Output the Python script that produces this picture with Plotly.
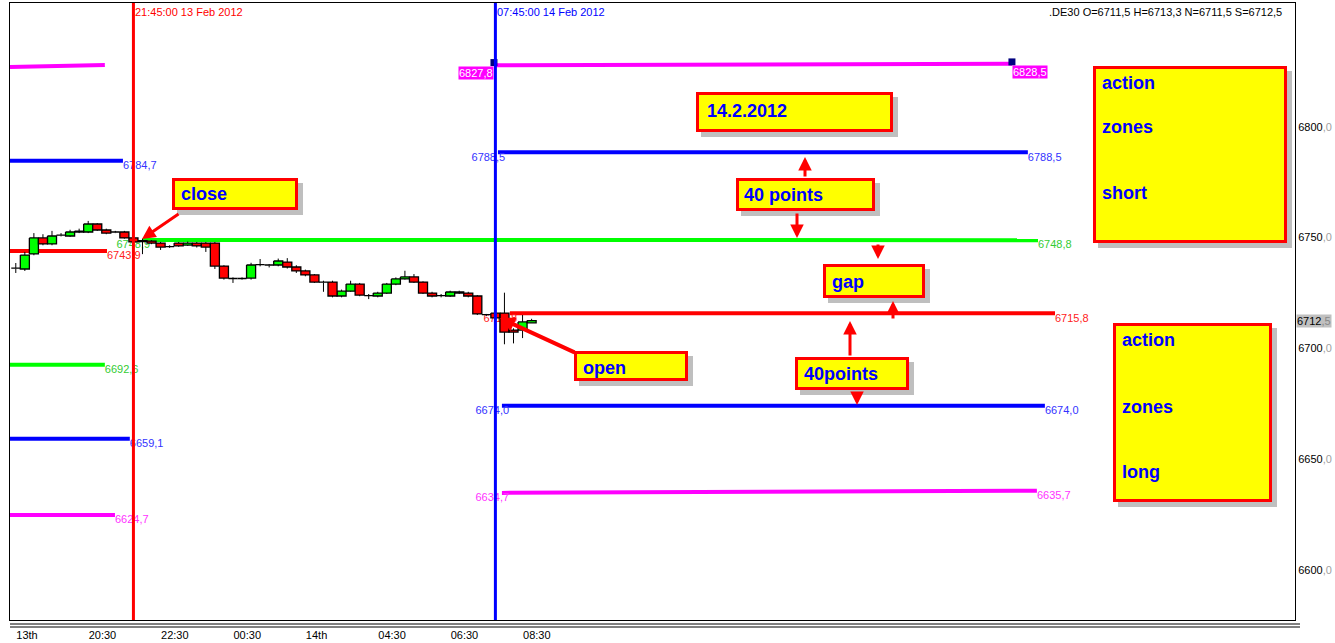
import plotly.graph_objects as go

# ---------------- data ----------------
# 15-minute bars, x = hours after 13 Feb 2012 18:30
bar_hours = [i * 0.25 for i in range(58)]
opens = [6736.0, 6735.8, 6742.6, 6749.8, 6747.1, 6750.9, 6750.7, 6752.5, 6752.5, 6756.1,
         6753.4, 6752.2, 6752.5, 6749.8, 6748.2, 6748.4, 6747.5, 6745.7, 6747.5, 6746.6,
         6747.5, 6747.5, 6747.5, 6737.1, 6731.5, 6731.3, 6731.7, 6737.6, 6737.6, 6737.6,
         6738.9, 6736.7, 6734.9, 6733.1, 6729.9, 6729.9, 6723.6, 6725.8, 6729.0, 6723.8,
         6723.6, 6724.9, 6729.0, 6731.3, 6732.2, 6729.9, 6724.9, 6723.6, 6723.6, 6725.4,
         6724.9, 6723.6, 6715.2, 6715.9, 6715.9, 6708.2, 6708.2, 6711.5]
highs = [6738.5, 6743.5, 6752.0, 6751.5, 6753.0, 6752.0, 6753.5, 6754.0, 6757.5, 6756.5,
         6754.0, 6753.0, 6753.0, 6750.2, 6749.5, 6748.8, 6748.0, 6746.5, 6748.0, 6748.2,
         6748.0, 6748.0, 6748.0, 6737.5, 6732.0, 6732.0, 6738.6, 6740.3, 6738.0, 6740.5,
         6740.7, 6737.5, 6735.5, 6733.5, 6730.5, 6730.5, 6726.5, 6730.5, 6729.5, 6724.5,
         6725.5, 6729.5, 6732.0, 6735.0, 6733.5, 6730.2, 6725.5, 6724.5, 6726.0, 6726.0,
         6725.5, 6724.0, 6715.5, 6716.2, 6725.1, 6709.0, 6715.0, 6713.3]
lows = [6734.0, 6734.9, 6742.0, 6746.5, 6746.5, 6750.5, 6750.3, 6752.0, 6752.0, 6753.0,
        6751.5, 6752.0, 6749.5, 6747.5, 6742.5, 6747.0, 6744.4, 6745.3, 6745.8, 6746.2,
        6745.5, 6743.5, 6735.8, 6731.0, 6729.5, 6731.0, 6731.0, 6737.0, 6736.5, 6737.0,
        6736.0, 6734.0, 6732.5, 6729.5, 6725.5, 6723.0, 6723.0, 6725.5, 6723.5, 6722.2,
        6723.0, 6724.5, 6728.5, 6731.0, 6729.5, 6724.5, 6723.0, 6723.0, 6723.2, 6724.5,
        6723.0, 6715.0, 6714.5, 6713.2, 6701.8, 6702.2, 6704.6, 6711.5]
closes = [6736.2, 6742.1, 6749.8, 6747.1, 6750.7, 6751.1, 6752.5, 6752.9, 6756.1, 6753.4,
          6752.0, 6752.5, 6749.8, 6748.0, 6748.6, 6747.5, 6745.7, 6745.9, 6746.2, 6747.5,
          6746.2, 6745.7, 6737.1, 6731.7, 6731.3, 6731.5, 6737.6, 6737.8, 6737.4, 6739.4,
          6736.7, 6734.9, 6733.1, 6729.9, 6729.7, 6723.6, 6725.8, 6729.0, 6724.0, 6723.6,
          6724.9, 6729.0, 6731.3, 6732.2, 6729.9, 6724.9, 6723.6, 6723.8, 6725.4, 6724.9,
          6723.6, 6715.5, 6715.0, 6713.7, 6707.3, 6707.3, 6711.9, 6712.5]

tick_hours = [0, 2, 4, 6, 8, 10, 12, 14]
tick_labels = ["13th", "20:30", "22:30", "00:30", "14th", "04:30", "06:30", "08:30"]
ytick_vals = [6600, 6650, 6700, 6750, 6800]

close_time_h = 3.25    # 21:45:00 13 Feb 2012
open_time_h = 13.25    # 07:45:00 14 Feb 2012
close_time_label = "21:45:00 13 Feb 2012"
open_time_label = "07:45:00 14 Feb 2012"

# previous-session levels
prev_start = [6827.0, 6784.7, 6743.9, 6692.6, 6659.1, 6624.7]
prev_end = [6827.9, 6784.7, 6743.9, 6692.6, 6659.1, 6624.7]
prev_colors = ["#ff00ff", "#0000ff", "#ff0000", "#00ff00", "#0000ff", "#ff00ff"]
prev_end_h = [2.46, 2.96, 2.52, 2.46, 3.15, 2.74]
prev_labeled = [False, True, True, True, True, True]

# levels for 14.2.2012
day_start = [6827.8, 6788.5, 6748.9, 6715.8, 6674.0, 6634.7]
day_end = [6828.5, 6788.5, 6748.8, 6715.8, 6674.0, 6635.7]
day_colors = ["#ff00ff", "#0000ff", "#00ff00", "#ff0000", "#0000ff", "#ff00ff"]
day_start_h = [13.21, 13.32, 3.51, 13.65, 13.43, 13.43]
day_end_h = [27.52, 27.96, 28.24, 28.71, 28.43, 28.21]

symbol = ".DE30"

# ---------------- geometry / style ----------------
W, H = 1335, 643
PL, PR, PT, PB = 10, 1295, 3, 620
X_RANGE = [-0.16, 35.34]
Y_RANGE = [6577.3, 6855.9]
FONT = "Liberation Sans"
label_color = {"#ff00ff": "#ff33ff", "#0000ff": "#3333ff", "#00ff00": "#33cc33", "#ff0000": "#ff2222"}


def fmt(v):
    return f"{v:.1f}".replace(".", ",")


def px(x):
    return (x - PL) / (PR - PL)


def py(y):
    return (PB - y) / (PB - PT)


fig = go.Figure()

# level lines (drawn first so candles sit on top)
for s, e, c, eh in zip(prev_start, prev_end, prev_colors, prev_end_h):
    fig.add_trace(go.Scatter(x=[X_RANGE[0], eh], y=[s, e], mode="lines",
                             line=dict(color=c, width=4), hoverinfo="skip"))
for s, e, c, sh, eh in zip(day_start, day_end, day_colors, day_start_h, day_end_h):
    fig.add_trace(go.Scatter(x=[sh, eh], y=[s, e], mode="lines",
                             line=dict(color=c, width=4), hoverinfo="skip"))

# level value labels
for e, c, eh, show in zip(prev_end, prev_colors, prev_end_h, prev_labeled):
    if show:
        fig.add_trace(go.Scatter(x=[eh], y=[e], mode="text", text=[fmt(e)],
                                 textposition="bottom right",
                                 textfont=dict(family=FONT, size=11, color=label_color[c]),
                                 hoverinfo="skip"))
for i, (s, e, c, sh, eh) in enumerate(zip(day_start, day_end, day_colors, day_start_h, day_end_h)):
    if i == 0:
        continue
    fig.add_trace(go.Scatter(x=[sh + 0.2], y=[s], mode="text", text=[fmt(s)],
                             textposition="bottom left",
                             textfont=dict(family=FONT, size=11, color=label_color[c]),
                             hoverinfo="skip"))
    fig.add_trace(go.Scatter(x=[eh], y=[e], mode="text", text=[fmt(e)],
                             textposition="bottom right",
                             textfont=dict(family=FONT, size=11, color=label_color[c]),
                             hoverinfo="skip"))

# candle wicks
wx, wy = [], []
for x, o, h, l, c in zip(bar_hours, opens, highs, lows, closes):
    top, bot = max(o, c), min(o, c)
    wx += [x, x, None, x, x, None]
    wy += [h, top, None, bot, l, None]
fig.add_trace(go.Scatter(x=wx, y=wy, mode="lines", line=dict(color="black", width=1),
                         hoverinfo="skip"))

# candle bodies
hw = 0.125
for up, fill in [(True, "#00ff00"), (False, "#ff0000")]:
    bx, by = [], []
    for x, o, c in zip(bar_hours, opens, closes):
        if (c >= o) != up:
            continue
        top, bot = max(o, c), min(o, c)
        bx += [x - hw, x + hw, x + hw, x - hw, x - hw, None]
        by += [top, top, bot, bot, top, None]
    fig.add_trace(go.Scatter(x=bx, y=by, mode="lines", fill="toself", fillcolor=fill,
                             line=dict(color="black", width=1.3), hoverinfo="skip"))

# endpoint markers on the top magenta level
fig.add_trace(go.Scatter(x=[day_start_h[0], day_end_h[0]], y=[day_start[0] + 1.2, day_end[0] + 0.8],
                         mode="markers", marker=dict(symbol="square", size=7, color="#000080"),
                         hoverinfo="skip"))

shapes = []
# session vertical lines
shapes.append(dict(type="line", xref="x", yref="paper", x0=close_time_h, x1=close_time_h,
                   y0=0, y1=1, line=dict(color="#ff0000", width=3)))
shapes.append(dict(type="line", xref="x", yref="paper", x0=open_time_h, x1=open_time_h,
                   y0=0, y1=1, line=dict(color="#0000ff", width=3)))
# double rule under the plot
for yy in (624, 627):
    shapes.append(dict(type="line", xref="paper", yref="paper", x0=0, x1=px(1300),
                       y0=py(yy), y1=py(yy), line=dict(color="black", width=1)))

annotations = []

# callout boxes (pixel layout positions)
boxes = [
    ((696, 92, 893, 132), [("14.2.2012", 705, 111)]),
    ((736, 178, 875, 211), [("40 points", 742, 195)]),
    ((823, 264, 925, 298), [("gap", 830, 282)]),
    ((795, 357, 909, 390), [("40points", 802, 374)]),
    ((172, 178, 298, 210), [("close", 179, 194)]),
    ((574, 351, 688, 381), [("open", 581, 368)]),
    ((1093, 66, 1287, 243), [("action", 1100, 83), ("zones", 1100, 127), ("short", 1100, 193)]),
    ((1113, 323, 1272, 502), [("action", 1120, 340), ("zones", 1120, 407), ("long", 1120, 472)]),
]
for (x0, y0, x1, y1), texts in boxes:
    shapes.append(dict(type="rect", xref="paper", yref="paper",
                       x0=px(x0 + 5), x1=px(x1 + 5), y0=py(y0 + 5), y1=py(y1 + 5),
                       fillcolor="rgba(0,0,0,0.25)", line=dict(width=0)))
    shapes.append(dict(type="rect", xref="paper", yref="paper",
                       x0=px(x0 + 1.5), x1=px(x1 - 1.5), y0=py(y0 + 1.5), y1=py(y1 - 1.5),
                       fillcolor="#ffff00", line=dict(color="#ff0000", width=3)))
    for t, tx, ty in texts:
        annotations.append(dict(xref="paper", yref="paper", x=px(tx), y=py(ty), text=f"<b>{t}</b>",
                                showarrow=False, xanchor="left", yanchor="middle",
                                font=dict(family=FONT, size=18, color="#0000ff")))

# red arrows: (tip_x, tip_y, tail_x, tail_y, width)
arrows = [
    (142, 239, 180, 213, 3),
    (500, 318, 576, 353, 4),
    (805, 157, 805, 178, 3),
    (797, 238, 797, 212, 3),
    (878, 259, 878, 243, 3),
    (893, 301, 893, 320, 3),
    (850, 321, 850, 357, 3),
    (857, 405, 857, 391, 3),
]
for tx, ty, ax, ay, w in arrows:
    annotations.append(dict(xref="paper", yref="paper", x=px(tx), y=py(ty), text="",
                            showarrow=True, ax=ax - tx, ay=ay - ty, arrowhead=2,
                            arrowsize=0.9 if w == 3 else 0.75, arrowwidth=w,
                            arrowcolor="#ff0000", standoff=0))

# session time labels
annotations.append(dict(xref="x", yref="paper", x=close_time_h, y=1, yshift=-1, text=close_time_label,
                        showarrow=False, xanchor="left", yanchor="top",
                        font=dict(family=FONT, size=11, color="#ff0000")))
annotations.append(dict(xref="x", yref="paper", x=open_time_h, y=1, yshift=-1, text=open_time_label,
                        showarrow=False, xanchor="left", yanchor="top",
                        font=dict(family=FONT, size=11, color="#0000ff")))

# OHLC header
header = f"{symbol} O={fmt(opens[-1])} H={fmt(highs[-1])} N={fmt(lows[-1])} S={fmt(closes[-1])}"
annotations.append(dict(xref="paper", yref="paper", x=px(1284), y=1, yshift=-1, text=header,
                        showarrow=False, xanchor="right", yanchor="top",
                        font=dict(family=FONT, size=11, color="black")))

# magenta value tags
annotations.append(dict(xref="x", yref="y", x=day_start_h[0], y=day_start[0], text=fmt(day_start[0]),
                        showarrow=False, xanchor="right", yanchor="top", bgcolor="#ff00ff",
                        borderpad=0, yshift=-1, font=dict(family=FONT, size=11, color="white")))
annotations.append(dict(xref="x", yref="y", x=day_end_h[0], y=day_end[0], text=fmt(day_end[0]),
                        showarrow=False, xanchor="left", yanchor="top", bgcolor="#ff00ff",
                        borderpad=0, yshift=-1, font=dict(family=FONT, size=11, color="white")))

# last price tag on the axis
last = fmt(closes[-1]).split(",")
annotations.append(dict(xref="paper", yref="y", x=1, y=closes[-1], xshift=1,
                        text=f"{last[0]}<span style='color:#888888'>,{last[1]}</span>",
                        showarrow=False, xanchor="left", yanchor="middle", bgcolor="#c0c0c0",
                        borderpad=0, font=dict(family=FONT, size=11, color="black")))

ytick_text = [f"{v}<span style='color:#a0a0a0'>,0</span>" for v in ytick_vals]

fig.update_layout(
    width=W, height=H,
    margin=dict(l=PL, r=W - PR, t=PT, b=H - PB, autoexpand=False),
    paper_bgcolor="white", plot_bgcolor="white",
    showlegend=False,
    shapes=shapes, annotations=annotations,
    font=dict(family=FONT, size=11, color="black"),
    xaxis=dict(range=X_RANGE, tickvals=tick_hours, ticktext=tick_labels,
               ticklabelposition="outside right", ticks="", ticklabelstandoff=5,
               showgrid=False, zeroline=False,
               showline=True, mirror=True, linecolor="black", linewidth=1,
               tickfont=dict(family=FONT, size=11, color="black")),
    yaxis=dict(range=Y_RANGE, side="right", tickvals=ytick_vals, ticktext=ytick_text,
               ticks="", showgrid=False, zeroline=False,
               showline=True, mirror=True, linecolor="black", linewidth=1,
               tickfont=dict(family=FONT, size=11, color="black")),
)

fig.write_html("out.html", config={"displayModeBar": False},
               post_script="document.body.style.margin='0';document.body.style.overflow='hidden';")
